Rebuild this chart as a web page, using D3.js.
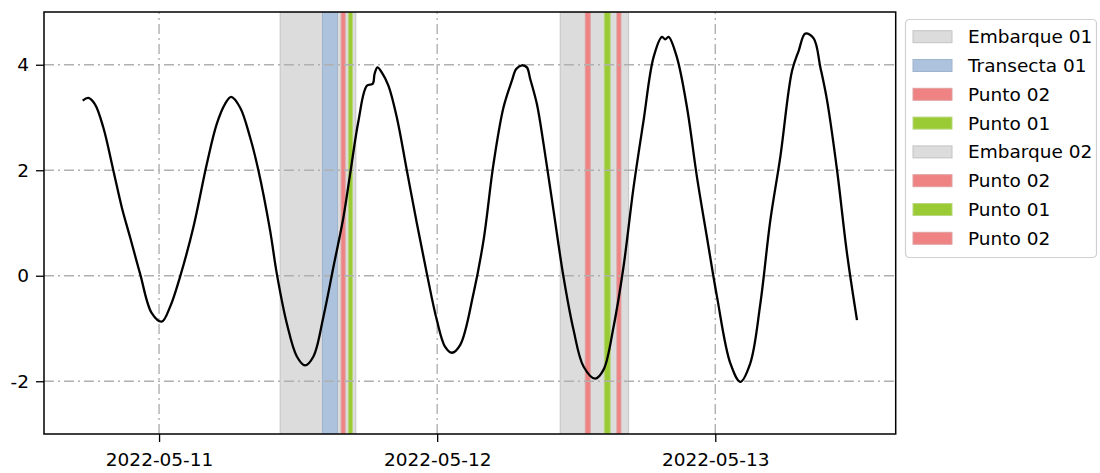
<!DOCTYPE html>
<html>
<head>
<meta charset="utf-8">
<script src="https://cdn.jsdelivr.net/npm/d3@7"></script>
<style>
  body { margin: 0; background: #fff; }
  svg { font-family: "DejaVu Sans", sans-serif; }
</style>
</head>
<body>
<div id="chart"></div>
<script>
// hours after 2022-05-11 00:00 and water level
const hours = [-6.59, -6.10, -5.53, -4.81, -3.95, -3.22, -2.50, -1.64, -0.63, 0.23,
  0.95, 1.81, 2.96, 4.12, 4.98, 5.70, 6.22, 6.99, 7.86, 8.57,
  9.58, 10.16, 11.02, 11.89, 12.60, 13.32, 14.18, 15.05, 15.91, 16.49,
  17.21, 17.93, 18.45, 18.59, 18.85, 19.23, 19.80, 20.52, 21.38, 22.25,
  23.11, 23.97, 24.69, 25.27, 25.99, 27.13, 28.00, 28.86, 29.72, 30.45,
  30.82, 31.31, 31.74, 32.03, 32.61, 33.18, 34.04, 34.90, 35.77, 36.63,
  37.64, 38.36, 39.22, 40.08, 40.95, 41.81, 42.67, 43.40, 43.68, 43.97,
  44.69, 45.56, 46.42, 47.28, 48.15, 49.30, 50.16, 51.02, 51.89, 52.75,
  53.61, 54.62, 55.19, 55.77, 56.49, 57.07, 57.65, 58.51, 59.37, 60.23];
const level = [3.32, 3.37, 3.25, 2.81, 2.00, 1.30, 0.73, 0.04, -0.71, -0.87,
  -0.59, -0.02, 0.92, 2.12, 2.88, 3.26, 3.39, 3.19, 2.62, 2.00,
  0.86, 0.04, -0.90, -1.53, -1.70, -1.53, -0.78, 0.17, 1.11, 1.93,
  2.94, 3.60, 3.64, 3.82, 3.95, 3.85, 3.60, 3.00, 2.00, 0.99,
  0.04, -0.84, -1.35, -1.46, -1.31, -0.34, 0.67, 2.12, 3.19, 3.70,
  3.92, 3.99, 3.95, 3.73, 3.25, 2.50, 1.24, -0.02, -1.03, -1.72,
  -1.95, -1.78, -0.97, 0.17, 1.68, 2.94, 4.14, 4.53, 4.48, 4.53,
  4.14, 3.19, 1.87, 0.73, -0.40, -1.66, -2.01, -1.66, -0.53, 1.05,
  2.25, 3.88, 4.26, 4.59, 4.50, 3.95, 3.32, 2.00, 0.42, -0.84];

// shaded periods (hours after 2022-05-11 00:00)
const spanNames = ['Embarque 01', 'Transecta 01', 'Punto 02', 'Punto 01',
  'Embarque 02', 'Punto 02', 'Punto 01', 'Punto 02'];
const spanStart = [10.45, 14.10, 15.71, 16.34, 34.62, 36.78, 38.42, 39.51];
const spanEnd = [16.98, 15.39, 16.06, 16.69, 40.52, 37.21, 38.94, 39.86];
const spanColors = ['#dcdcdc', '#adc3dd', '#ef8282', '#9acb34',
  '#dcdcdc', '#ef8282', '#9acb34', '#ef8282'];
const spanEdges = ['#c4c4c4', '#9fb3cc', '#e0a0a0', '#b9d77e',
  '#c4c4c4', '#e0a0a0', '#b9d77e', '#e0a0a0'];

const yTicks = [-2, 0, 2, 4];
const xTickLabels = ['2022-05-11', '2022-05-12', '2022-05-13'];

const width = 1100;
const height = 473;
const plotLeft = 44;
const plotRight = 895.7;
const plotTop = 12;
const plotBottom = 434;

const base = Date.UTC(2022, 4, 11);
const toDate = h => new Date(base + h * 3600e3);
const parseDay = d3.utcParse('%Y-%m-%d');

const x = d3.scaleUtc()
  .domain([toDate(-9.93), toDate(63.57)])
  .range([plotLeft, plotRight]);

const y = d3.scaleLinear()
  .domain([-3, 5])
  .range([plotBottom, plotTop]);

const svg = d3.select('#chart').append('svg')
  .attr('width', width)
  .attr('height', height);

const clip = svg.append('defs').append('clipPath').attr('id', 'plot-clip');
clip.append('rect')
  .attr('x', plotLeft).attr('y', plotTop)
  .attr('width', plotRight - plotLeft).attr('height', plotBottom - plotTop);

const spans = spanNames.map((name, i) => ({
  name: name, start: spanStart[i], end: spanEnd[i], fill: spanColors[i], edge: spanEdges[i]
}));

// spans
svg.append('g').attr('clip-path', 'url(#plot-clip)')
  .selectAll('rect')
  .data(spans)
  .enter().append('rect')
    .attr('x', d => x(toDate(d.start)))
    .attr('width', d => x(toDate(d.end)) - x(toDate(d.start)))
    .attr('y', plotTop)
    .attr('height', plotBottom - plotTop)
    .attr('fill', d => d.fill)
    .attr('stroke', d => d.edge)
    .attr('stroke-width', 1);

// grid
const dash = '10,4,2,4';
const grid = svg.append('g').attr('class', 'grid');
grid.selectAll('.gy')
  .data(yTicks)
  .enter().append('line')
    .attr('x1', plotLeft).attr('x2', plotRight)
    .attr('y1', d => y(d)).attr('y2', d => y(d))
    .attr('stroke', '#b0b0b0').attr('stroke-width', 1.4)
    .attr('stroke-dasharray', dash);
grid.selectAll('.gx')
  .data(xTickLabels)
  .enter().append('line')
    .attr('x1', d => x(parseDay(d))).attr('x2', d => x(parseDay(d)))
    .attr('y1', plotBottom).attr('y2', plotTop)
    .attr('stroke', '#b0b0b0').attr('stroke-width', 1.4)
    .attr('stroke-dasharray', dash);

// tide line
const line = d3.line()
  .x(d => x(toDate(d[0])))
  .y(d => y(d[1]))
  .curve(d3.curveCatmullRom.alpha(0.5));

svg.append('path')
  .datum(hours.map((h, i) => [h, level[i]]))
  .attr('fill', 'none')
  .attr('stroke', '#000')
  .attr('stroke-width', 2.3)
  .attr('stroke-linejoin', 'round')
  .attr('d', line);

// axes
const xAxis = d3.axisBottom(x)
  .tickValues(xTickLabels.map(parseDay))
  .tickFormat(d3.utcFormat('%Y-%m-%d'))
  .tickSize(8)
  .tickPadding(11);

const yAxis = d3.axisLeft(y)
  .tickValues(yTicks)
  .tickFormat(d => String(d))
  .tickSize(8)
  .tickPadding(7);

const gx = svg.append('g')
  .attr('transform', `translate(0, ${plotBottom})`)
  .call(xAxis);
const gy = svg.append('g')
  .attr('transform', `translate(${plotLeft}, 0)`)
  .call(yAxis);

[gx, gy].forEach(g => {
  g.select('.domain').remove();
  g.selectAll('.tick line').attr('stroke', '#000').attr('stroke-width', 1.3);
  g.selectAll('.tick text')
    .attr('fill', '#000')
    .style('font-size', '18.5px')
    .style('font-family', '"DejaVu Sans", sans-serif');
});

// frame
svg.append('rect')
  .attr('x', plotLeft).attr('y', plotTop)
  .attr('width', plotRight - plotLeft).attr('height', plotBottom - plotTop)
  .attr('fill', 'none')
  .attr('stroke', '#000')
  .attr('stroke-width', 1.5);

// legend
const legend = svg.append('g').attr('transform', 'translate(905, 19)');
legend.append('rect')
  .attr('x', 0.5).attr('y', 0.5)
  .attr('width', 191).attr('height', 238)
  .attr('rx', 4)
  .attr('fill', '#fff')
  .attr('stroke', '#d0d0d0')
  .attr('stroke-width', 1.2);

const rowStep = 28.8;
const items = legend.selectAll('.item')
  .data(spans)
  .enter().append('g')
    .attr('transform', (d, i) => `translate(0, ${17.7 + i * rowStep})`);

items.append('rect')
  .attr('x', 8).attr('y', -6)
  .attr('width', 39).attr('height', 12)
  .attr('fill', d => d.fill)
  .attr('stroke', d => d.edge)
  .attr('stroke-width', 1);

items.append('text')
  .attr('x', 63)
  .attr('y', 0)
  .attr('dy', '0.35em')
  .style('font-size', '18.5px')
  .attr('fill', '#000')
  .text(d => d.name);
</script>
</body>
</html>
